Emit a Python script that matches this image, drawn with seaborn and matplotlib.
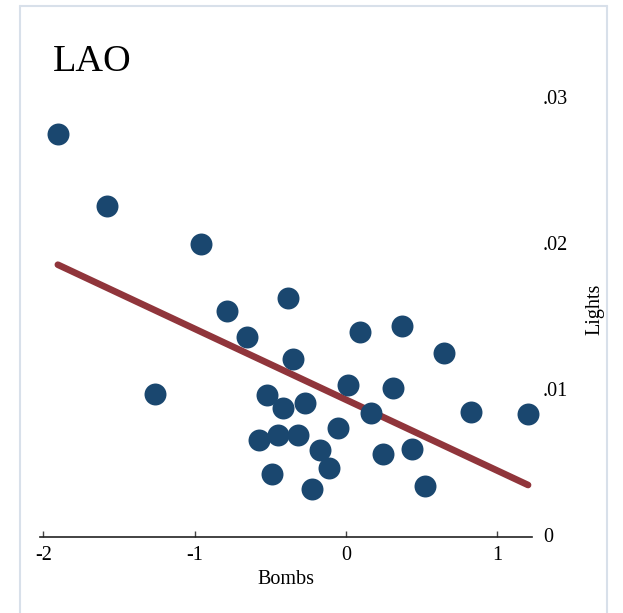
import matplotlib
matplotlib.use("Agg")
import matplotlib.pyplot as plt
import seaborn as sns
import pandas as pd
from matplotlib.lines import Line2D

bombs = [-1.904, -1.58, -0.958, -1.262, -0.787, -0.654, -0.383, -0.350, -0.522, -0.416,
         -0.271, -0.575, -0.449, -0.317, -0.489, -0.172, -0.112, -0.225, -0.053, 0.013,
         0.093, 0.165, 0.311, 0.370, 0.245, 0.436, 0.522, 0.648, 0.826, 1.203]
lights = [0.02747, 0.02253, 0.01993, 0.00966, 0.01534, 0.01356, 0.01623, 0.01205, 0.00959, 0.0087,
          0.00904, 0.00651, 0.00685, 0.00685, 0.00418, 0.00582, 0.00459, 0.00315, 0.00733, 0.01027,
          0.0139, 0.00836, 0.01007, 0.01432, 0.00555, 0.00589, 0.00336, 0.01247, 0.00842, 0.00829]
xticks = [-2, -1, 0, 1]
xticklabels = ["-2", "-1", "0", "1"]
yticks = [0, 0.01, 0.02, 0.03]
yticklabels = ["0", ".01", ".02", ".03"]

df = pd.DataFrame({"Bombs": bombs, "Lights": lights})

sns.set_theme(style="white")
plt.rcParams["font.family"] = ["Liberation Serif", "DejaVu Serif"]
plt.rcParams["text.color"] = "black"
plt.rcParams["axes.labelcolor"] = "black"
plt.rcParams["xtick.color"] = "black"
plt.rcParams["ytick.color"] = "black"

fig = plt.figure(figsize=(6.23, 6.13), dpi=100)
ax = fig.add_axes([40/623, (613-537.2)/613, 492/623, 454.8/613])

sns.regplot(data=df, x="Bombs", y="Lights", ci=None, ax=ax,
            scatter_kws=dict(s=250, color="#1a476f", alpha=1, linewidths=0, zorder=3, clip_on=False),
            line_kws=dict(color="#90353b", lw=4.8, solid_capstyle="round", zorder=2))

ax.set_xlim(-2.022, 1.229)
ax.set_ylim(-0.00015, 0.031)
for s in ["top", "left", "right"]:
    ax.spines[s].set_visible(False)
ax.spines["bottom"].set_color("#222222")
ax.spines["bottom"].set_linewidth(1.2)

ax.set_xticks(xticks)
ax.set_xticklabels(xticklabels, fontsize=14.5)
ax.tick_params(axis="x", direction="in", length=4, width=1, color="#444444", labelcolor="black", pad=6, bottom=True)
ax.yaxis.tick_right()
ax.set_yticks(yticks)
ax.set_yticklabels(yticklabels, fontsize=14.5)
ax.tick_params(axis="y", length=0, pad=8, right=False, labelcolor="black")
ax.yaxis.set_label_position("right")
ax.set_ylabel("Lights", fontsize=14.5, labelpad=12, color="black")
ax.set_xlabel("Bombs", fontsize=14.5, labelpad=4, color="black")

fig.text(53/623, 1 - 71/613, "LAO", fontsize=27.5, ha="left", va="baseline", color="black")

frame_c = "#d8e0ea"
fig.add_artist(Line2D([20/623, 20/623], [0, 1-6/613], transform=fig.transFigure, color=frame_c, lw=1.5))
fig.add_artist(Line2D([20/623, 607/623], [1-6/613, 1-6/613], transform=fig.transFigure, color=frame_c, lw=1.5))
fig.add_artist(Line2D([607/623, 607/623], [0, 1-6/613], transform=fig.transFigure, color=frame_c, lw=1.5))

fig.savefig("out.png", dpi=100)
